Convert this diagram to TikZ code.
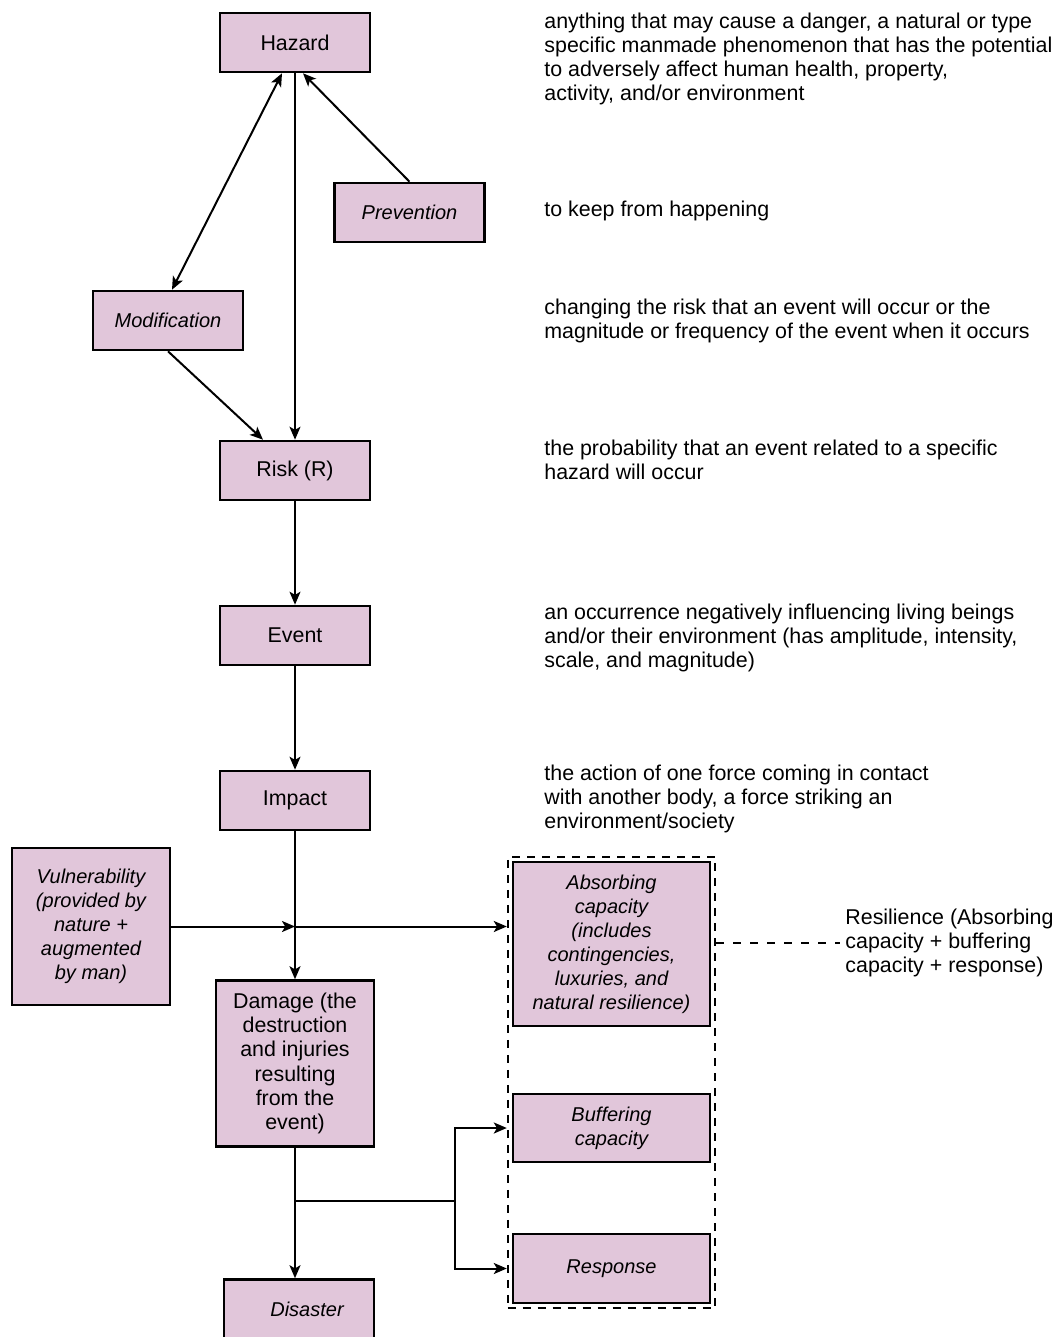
\documentclass[tikz,border=0pt]{standalone}
\usepackage{fontspec}
\setmainfont{Liberation Sans}
\usetikzlibrary{arrows.meta,fit}
\definecolor{boxpink}{HTML}{E1C6DA}

\begin{document}
\begin{tikzpicture}[
  x=0.5pt,y=-0.5pt,
  font=\fontsize{10.7}{12.1}\selectfont,
  box/.style={rectangle,draw,line width=1.3pt,fill=boxpink,align=center,
    minimum width=75pt,minimum height=29.5pt,inner sep=2pt},
  widebox/.style={box,minimum width=98.5pt},
  note/.style={anchor=west,align=left,inner sep=0pt},
  arrow/.style={-{Stealth[length=6.5pt,width=5.5pt,inset=1.6pt]},line width=1pt},
  twoway/.style={arrow,{Stealth[length=6.5pt,width=5.5pt,inset=1.6pt]}-{Stealth[length=6.5pt,width=5.5pt,inset=1.6pt]}},
  dashbox/.style={draw,line width=0.9pt,dash pattern=on 4pt off 3.5pt,inner sep=2pt},
  dashline/.style={line width=0.9pt,dash pattern=on 4pt off 4.5pt}
]
  \useasboundingbox (0,0) rectangle (1053,1337);

  \node[box] (hazard) at (295,42.5) {Hazard};
  \node[box,font=\itshape] (prevent) at (409.5,212.5) {Prevention};
  \node[box,font=\itshape] (modif) at (168,320.5) {Modification};
  \node[box] (risk) at (295,470.5) {Risk (R)};
  \node[box] (event) at (295,635.5) {Event};
  \node[box] (impact) at (295,800.5) {Impact};
  \node[box,font=\itshape,minimum width=79pt,minimum height=78.5pt] (vuln) at (91,926.5)
    {Vulnerability\\(provided by\\nature +\\augmented\\by man)};
  \node[box,minimum width=79pt,minimum height=83pt] (damage) at (295,1063.5)
    {Damage (the\\destruction\\and injuries\\resulting\\from the\\event)};
  \node[box,font=\itshape] (disaster) at (299,1309) {\hspace*{8pt}Disaster};
  \node[widebox,font=\itshape,minimum height=82pt] (absorb) at (611.5,944)
    {Absorbing\\capacity\\(includes\\contingencies,\\luxuries, and\\natural resilience)};
  \node[widebox,font=\itshape,minimum height=34pt] (buffer) at (611.5,1128)
    {Buffering\\capacity};
  \node[widebox,font=\itshape,minimum height=34.5pt] (response) at (611.5,1268.5) {Response};
  \node[dashbox,fit=(absorb)(buffer)(response)] (resil) {};

  \node[note] (hazardnote) at (544,59) {anything that may cause a danger, a natural or type\\specific manmade phenomenon that has the potential\\to adversely affect human health, property,\\activity, and/or environment};
  \node[note] (preventnote) at (544,211) {to keep from happening};
  \node[note] (modifnote) at (544,321) {changing the risk that an event will occur or the\\magnitude or frequency of the event when it occurs};
  \node[note] (risknote) at (544,460) {the probability that an event related to a specific\\hazard will occur};
  \node[note] (eventnote) at (544,638) {an occurrence negatively influencing living beings\\and/or their environment (has amplitude, intensity,\\scale, and magnitude)};
  \node[note] (impactnote) at (544,799) {the action of one force coming in contact\\with another body, a force striking an\\environment/society};
  \node[note,inner xsep=2.5pt] (reslabel) at (840,943) {Resilience (Absorbing\\capacity + buffering\\capacity + response)};

  \coordinate (cross) at (vuln.east -| impact.south);
  \coordinate (branch) at (295,1201);
  \coordinate (fork) at (455,1201);

  \draw[twoway] ([xshift=-6.5pt]hazard.south) -- ([xshift=2pt]modif.north);
  \draw[arrow] (prevent.north) -- ([xshift=4pt]hazard.south);
  \draw[arrow] (hazard) -- (risk);
  \draw[arrow] (modif.south) -- ([xshift=-16pt]risk.north);
  \draw[arrow] (risk) -- (event);
  \draw[arrow] (event) -- (impact);
  \draw[arrow] (impact) -- (damage);
  \draw[arrow] (vuln) -- (cross);
  \draw[arrow] (cross) -- (cross -| resil.west);
  \draw[arrow] (damage.south) -- (damage.south |- disaster.north);
  \draw[line width=1pt] (branch) -- (fork);
  \draw[arrow] (fork) |- (buffer.west -| resil.west);
  \draw[arrow] (fork) |- (response.west -| resil.west);
  \draw[dashline] (reslabel.west -| resil.east) -- (reslabel.west);
\end{tikzpicture}
\end{document}
